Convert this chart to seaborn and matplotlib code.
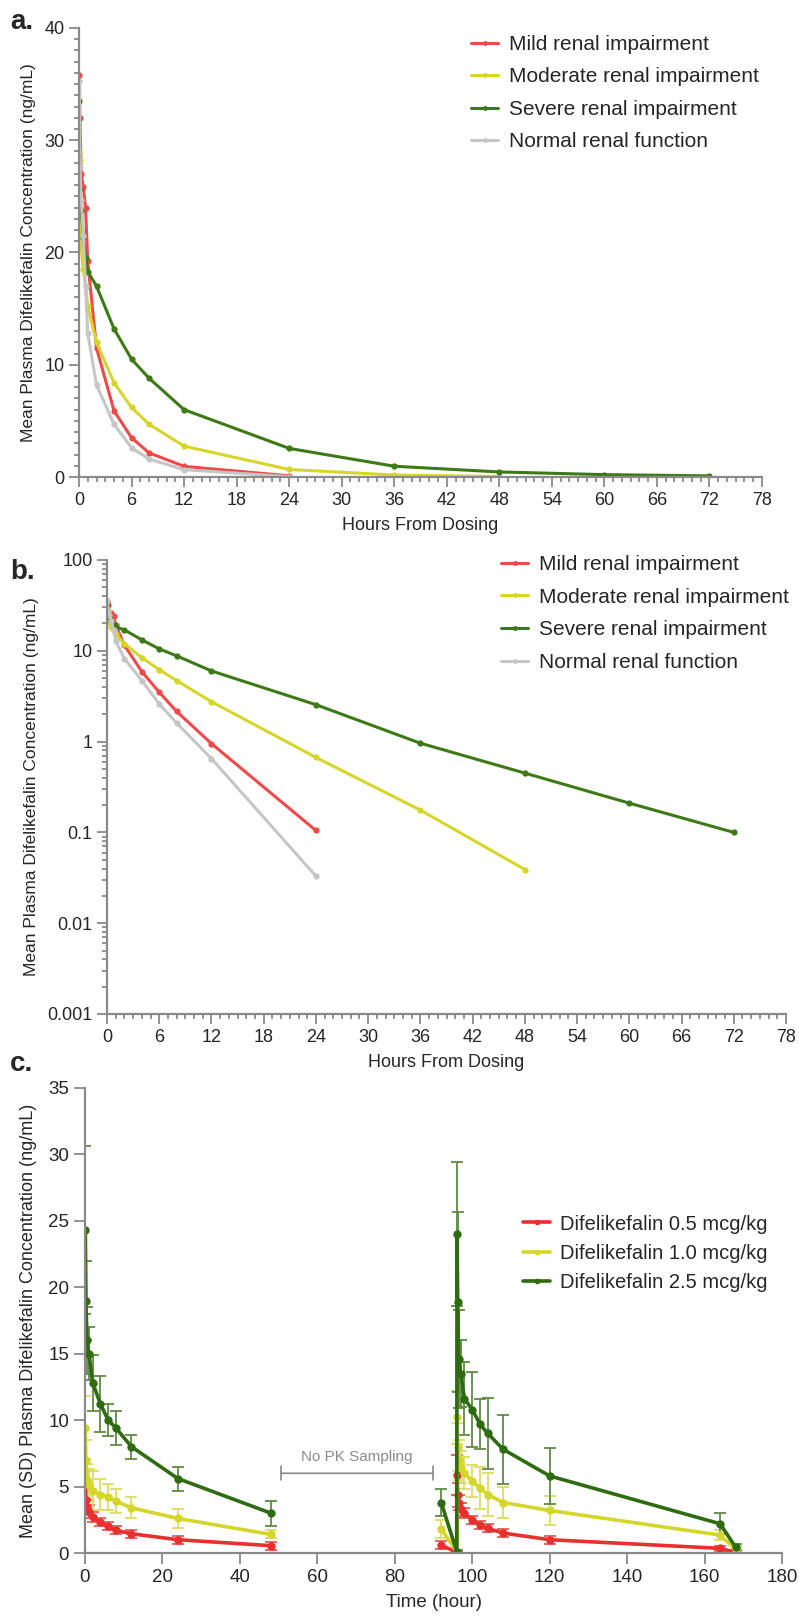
import numpy as np
import pandas as pd
import matplotlib
matplotlib.use("Agg")
import matplotlib.pyplot as plt
from matplotlib import font_manager
from matplotlib.lines import Line2D
from matplotlib.ticker import MultipleLocator, FixedLocator, NullFormatter, LogLocator
import seaborn as sns

# ---- data: panels a/b (mean plasma concentration by renal function) ----
hours = [0.05, 0.1, 0.25, 0.5, 0.75, 1, 2, 4, 6, 8, 12, 24, 36, 48, 60, 72]
mild = [35.8, 32.0, 27.0, 25.8, 24.0, 19.2, 11.5, 5.9, 3.5, 2.15, 0.95, 0.105]
moderate = [29.0, 28.2, 20.5, 18.5, 17.0, 15.2, 12.0, 8.4, 6.2, 4.7, 2.75, 0.67, 0.176, 0.039]
severe = [33.5, 25.7, 23.7, 21.4, 19.5, 18.3, 17.0, 13.2, 10.5, 8.8, 6.0, 2.55, 0.96, 0.45, 0.21, 0.10]
normal = [35.3, 27.6, 24.7, 21.5, 16.9, 12.8, 8.2, 4.7, 2.6, 1.6, 0.65, 0.033]
renal_groups = ["Mild renal impairment", "Moderate renal impairment",
                "Severe renal impairment", "Normal renal function"]
renal_colors = ["#ef4a4a", "#d6d62a", "#3d7a16", "#c6c6c6"]

# ---- data: panel c (mean (SD) by dose, two dosing periods) ----
t_dose1 = [0.08, 0.25, 0.5, 1, 2, 4, 6, 8, 12, 24, 48]
t_dose2 = [92, 96, 96.08, 96.25, 96.5, 97, 98, 100, 102, 104, 108, 120, 164, 168]
mean_05_d1 = [5.4, 4.0, 3.5, 3.1, 2.7, 2.3, 2.0, 1.7, 1.45, 1.0, 0.55]
sd_05_d1 = [1.3, 0.7, 0.5, 0.5, 0.4, 0.3, 0.3, 0.3, 0.3, 0.3, 0.3]
mean_10_d1 = [9.4, 7.0, 5.5, 5.1, 4.7, 4.4, 4.2, 3.9, 3.4, 2.6, 1.4]
sd_10_d1 = [2.4, 1.5, 1.2, 1.2, 1.5, 1.2, 1.0, 0.9, 0.8, 0.7, 0.3]
mean_25_d1 = [24.3, 19.0, 16.0, 15.0, 12.8, 11.2, 10.0, 9.4, 8.0, 5.6, 3.0]
sd_25_d1 = [6.3, 3.0, 2.5, 2.0, 2.1, 2.1, 1.2, 1.3, 0.9, 0.9, 0.95]
mean_05_d2 = [0.6, 0.05, 5.9, 4.4, 3.8, 3.3, 3.0, 2.5, 2.1, 1.85, 1.5, 1.0, 0.35, 0.05]
sd_05_d2 = [0.3, 0.05, 1.5, 0.9, 0.6, 0.5, 0.4, 0.3, 0.3, 0.3, 0.3, 0.3, 0.2, 0.05]
mean_10_d2 = [1.8, 0.1, 10.2, 8.0, 7.0, 6.5, 6.0, 5.4, 4.9, 4.4, 3.8, 3.2, 1.35, 0.3]
sd_10_d2 = [0.7, 0.1, 2.0, 1.8, 1.5, 1.2, 1.2, 1.2, 1.6, 1.6, 1.2, 1.1, 0.4, 0.15]
mean_25_d2 = [3.8, 0.1, 24.0, 18.9, 14.6, 13.5, 11.6, 10.8, 9.7, 9.0, 7.8, 5.8, 2.2, 0.45]
sd_25_d2 = [1.05, 0.1, 5.4, 6.8, 3.7, 2.5, 2.75, 2.8, 1.9, 2.7, 2.6, 2.1, 0.8, 0.2]
dose_groups = ["Difelikefalin 0.5 mcg/kg", "Difelikefalin 1.0 mcg/kg", "Difelikefalin 2.5 mcg/kg"]
dose_colors = ["#e8302e", "#d4d62a", "#2f6b10"]
bar_colors = ["#e85a58", "#dcdc66", "#5f8a45"]

# ---- build long tables ----
rows = []
for g, vals in zip(renal_groups, [mild, moderate, severe, normal]):
    for h, v in zip(hours, vals):
        rows.append({"hours": h, "conc": v, "group": g})
df_renal = pd.DataFrame(rows)

rows = []
series_c = {
    dose_groups[0]: [(t_dose1, mean_05_d1, sd_05_d1), (t_dose2, mean_05_d2, sd_05_d2)],
    dose_groups[1]: [(t_dose1, mean_10_d1, sd_10_d1), (t_dose2, mean_10_d2, sd_10_d2)],
    dose_groups[2]: [(t_dose1, mean_25_d1, sd_25_d1), (t_dose2, mean_25_d2, sd_25_d2)],
}
for g, periods in series_c.items():
    for k, (t, m, s) in enumerate(periods):
        for ti, mi, si in zip(t, m, s):
            rows.append({"time": ti, "mean": mi, "sd": si, "group": g, "period": k})
df_dose = pd.DataFrame(rows)

# ---- style ----
sns.set_style("ticks")
plt.rcParams["font.family"] = ["Liberation Sans", "DejaVu Sans"]
avail = {f.name for f in font_manager.fontManager.ttflist}
narrow = "Liberation Sans Narrow" if "Liberation Sans Narrow" in avail else "Liberation Sans"
AXC = "#8a8a8a"

W, H = 799, 1623
fig = plt.figure(figsize=(W / 100, H / 100), dpi=100)


def box(left, right, top, bottom):
    return [left / W, 1 - bottom / H, (right - left) / W, (bottom - top) / H]


def style_axes(ax):
    sns.despine(ax=ax)
    for side in ["left", "bottom"]:
        ax.spines[side].set_color(AXC)
        ax.spines[side].set_linewidth(1.6)
    ax.tick_params(which="both", color=AXC, width=1.3, direction="out")
    ax.tick_params(which="major", length=7, labelsize=13)
    ax.tick_params(which="minor", length=3.5)


def renal_panel(ax):
    sns.lineplot(data=df_renal, x="hours", y="conc", hue="group",
                 palette=renal_colors, hue_order=renal_groups,
                 estimator=None, sort=False, marker="o", markersize=4.5,
                 markeredgewidth=0, linewidth=2.2, legend=False, ax=ax)
    style_axes(ax)
    ax.set_xlim(0, 78)
    ax.xaxis.set_major_locator(MultipleLocator(6))
    ax.xaxis.set_minor_locator(MultipleLocator(1))
    for lab in ax.get_xticklabels():
        lab.set_fontfamily(narrow)
    ax.set_xlabel("Hours From Dosing", fontsize=13, family=narrow, labelpad=6)
    ax.set_ylabel("Mean Plasma Difelikefalin Concentration (ng/mL)", fontsize=12.5, labelpad=6)
    handles = [Line2D([0], [0], color=c, lw=2.2, marker="o", markersize=3.5, markeredgewidth=0)
               for c in renal_colors]
    return handles


# panel a
ax_a = fig.add_axes(box(79, 762, 28, 477))
h = renal_panel(ax_a)
ax_a.set_ylim(0, 40)
ax_a.yaxis.set_major_locator(MultipleLocator(10))
ax_a.yaxis.set_minor_locator(MultipleLocator(1))
ax_a.legend(h, renal_groups, loc="center left", bbox_to_anchor=(0.547, 0.855), frameon=False,
            fontsize=15, handlelength=1.3, labelspacing=0.65, handletextpad=0.5)

# panel b
ax_b = fig.add_axes(box(107, 786, 560, 1014))
h = renal_panel(ax_b)
ax_b.set_yscale("log")
ax_b.set_ylim(0.001, 100)
ax_b.yaxis.set_major_locator(FixedLocator([0.001, 0.01, 0.1, 1, 10, 100]))
ax_b.set_yticklabels(["0.001", "0.01", "0.1", "1", "10", "100"])
ax_b.yaxis.set_minor_locator(LogLocator(base=10, subs=np.arange(2, 10)))
ax_b.yaxis.set_minor_formatter(NullFormatter())
ax_b.legend(h, renal_groups, loc="center left", bbox_to_anchor=(0.553, 0.882), frameon=False,
            fontsize=15, handlelength=1.3, labelspacing=0.66, handletextpad=0.5)

# panel c
ax_c = fig.add_axes(box(85, 782, 1088, 1553))
sns.lineplot(data=df_dose, x="time", y="mean", hue="group", units="period",
             palette=dose_colors, hue_order=dose_groups, estimator=None, sort=False,
             marker="o", markersize=6, markeredgewidth=0, linewidth=2.6,
             legend=False, ax=ax_c)
for g, bc in zip(dose_groups, bar_colors):
    sub = df_dose[df_dose["group"] == g]
    ax_c.errorbar(sub["time"], sub["mean"], yerr=sub["sd"], fmt="none",
                  ecolor=bc, elinewidth=1.3, capsize=4, capthick=1.3, zorder=1)
style_axes(ax_c)
ax_c.tick_params(which="major", labelsize=13.5, length=8)
ax_c.set_xlim(0, 180)
ax_c.set_ylim(0, 35)
ax_c.xaxis.set_major_locator(MultipleLocator(20))
ax_c.yaxis.set_major_locator(MultipleLocator(5))
ax_c.set_xlabel("Time (hour)", fontsize=13.5, labelpad=6)
ax_c.set_ylabel("Mean (SD) Plasma Difelikefalin Concentration (ng/mL)", fontsize=13, labelpad=8)
ax_c.annotate("", xy=(50, 6.0), xytext=(90.6, 6.0),
              arrowprops=dict(arrowstyle="|-|", color=AXC, lw=1.2, mutation_scale=5))
ax_c.text(70.3, 7.2, "No PK Sampling", ha="center", va="center", fontsize=11, color="#8c8c8c")
hc = [Line2D([0], [0], color=c, lw=2.6, marker="o", markersize=4, markeredgewidth=0)
      for c in dose_colors]
ax_c.legend(hc, dose_groups, loc="center left", bbox_to_anchor=(0.603, 0.645), frameon=False,
            fontsize=14.5, handlelength=1.3, labelspacing=0.5, handletextpad=0.5)

# panel letters
for lab, y in [("a.", 22), ("b.", 572), ("c.", 1064)]:
    fig.text(10 / W, 1 - y / H, lab, fontsize=20, fontweight="bold", va="center")

fig.savefig("out.png", dpi=100)
